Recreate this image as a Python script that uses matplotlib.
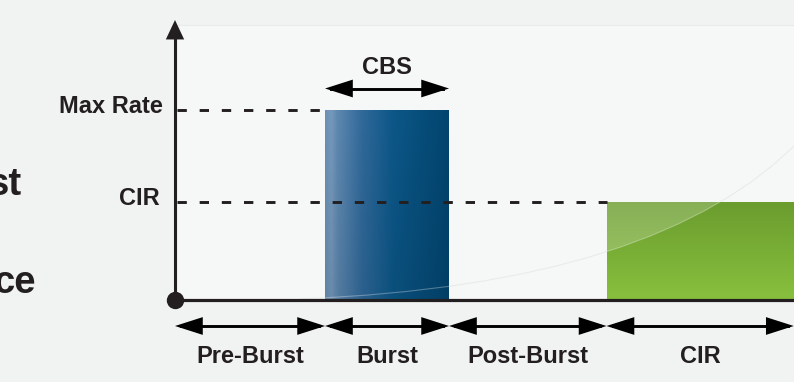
import matplotlib
matplotlib.use('Agg')
from matplotlib import pyplot as plt
from matplotlib.patches import Rectangle, PathPatch, ArrowStyle, FancyArrowPatch
from matplotlib.path import Path
from matplotlib.colors import to_rgb
import numpy as np

# traffic phases along the time axis
phase_names = ['Pre-Burst', 'Burst', 'Post-Burst', 'CIR']
phase_edges = [0.0, 1.21, 2.21, 3.48, 4.99]

# rate levels
level_names = ['Max Rate', 'CIR']
level_values = [1.0, 0.515]
max_rate, cir = level_values

# rate sent during each phase (0 = idle)
phase_rates = [0.0, max_rate, 0.0, cir]
burst_label = 'CBS'

INK = '#231f20'
BG = '#f1f3f2'
FONT = ['Liberation Sans', 'DejaVu Sans']

# pixel geometry of the drawing (origin of the axes in the image)
W, H = 794, 382
X0, Y0 = 175, 299.5
XU, YU = 124.0, 190.0


def px(x, y):
    # image pixel -> data coords, for decoration only
    return (x - X0) / XU, (Y0 - y) / YU


fig = plt.figure(figsize=(W / 100, H / 100), dpi=100, facecolor=BG)
ax = fig.add_axes([0, 0, 1, 1])
ax.set_xlim(-X0 / XU, (W - X0) / XU)
ax.set_ylim(-(H - Y0) / YU, Y0 / YU)
ax.set_facecolor(BG)
ax.axis('off')

# lighter panel behind the plot
px0, py0 = px(178, 25)
xmax = ax.get_xlim()[1]
ax.add_patch(Rectangle((px0, 0), xmax - px0, py0, facecolor='#f6f7f7',
                       edgecolor='none', zorder=0))
ax.plot([px0, xmax], [py0, py0], color='#e9ebeb', lw=0.8, zorder=0.5)

# glossy swoosh
p_start, p_ctrl, p_end = px(300, 299), px(660, 285), px(800, 140)
swoosh = Path([p_start, p_ctrl, p_end], [Path.MOVETO, Path.CURVE3, Path.CURVE3])
top = ax.get_ylim()[1]
swoosh_area = Path([p_start, p_ctrl, p_end, (p_end[0], top), (p_start[0], top), p_start],
                   [Path.MOVETO, Path.CURVE3, Path.CURVE3, Path.LINETO, Path.LINETO,
                    Path.CLOSEPOLY])
ax.add_patch(PathPatch(swoosh, facecolor='none', edgecolor='#e9ecec', lw=0.8, zorder=0.6))

# bars for each phase
widths = np.diff(phase_edges)
bars = ax.bar(phase_edges[:-1], phase_rates, width=widths, align='edge',
              color='none', edgecolor='none', zorder=2)


def gradient(stops_x, colors_x, top_mul, bottom_mul, n=200):
    t = np.linspace(0, 1, n)
    rgb = np.array([to_rgb(c) for c in colors_x])
    row = np.stack([np.interp(t, stops_x, rgb[:, k]) for k in range(3)], axis=-1)
    mul = np.linspace(top_mul, bottom_mul, n)[:, None, None]
    return np.clip(row[None, :, :] * mul, 0, 1)


# burst bar: steel blue fading to deep navy
blue = gradient([0, 0.05, 0.1, 0.3, 0.55, 1.0],
                ['#6a90b4', '#7599bc', '#5e88b0', '#30699a', '#0c5788', '#02456f'],
                1.0, 0.91)
b = bars.patches[1]
im = ax.imshow(blue, extent=(b.get_x(), b.get_x() + b.get_width(), 0, b.get_height()),
               aspect='auto', zorder=2.1, interpolation='bilinear')
im.set_clip_path(b)

# CIR bar: green, lighter toward the bottom
g = bars.patches[3]
t = np.linspace(0, 1, 200)
c_top, c_bot = np.array(to_rgb('#6a9c2e')), np.array(to_rgb('#88c03e'))
green = (c_top[None, :] * (1 - t[:, None]) + c_bot[None, :] * t[:, None])[:, None, :]
im = ax.imshow(green, extent=(g.get_x(), g.get_x() + g.get_width(), 0, g.get_height()),
               aspect='auto', zorder=2.1, interpolation='bilinear')
im.set_clip_path(g)

hl = PathPatch(swoosh_area, facecolor='white', edgecolor='none', alpha=0.2, zorder=2.2)
ax.add_patch(hl)
hl.set_clip_path(g)
for patch in (b, g):
    ln = PathPatch(swoosh, facecolor='none', edgecolor='white', lw=0.8, alpha=0.3, zorder=2.2)
    ax.add_patch(ln)
    ln.set_clip_path(patch)

# dashed reference levels
dash = (0, (3.2, 4.4))
ax.plot([0.02, phase_edges[1]], [max_rate, max_rate], color=INK, lw=2.1,
        linestyle=dash, zorder=1.5)
ax.plot([0.02, phase_edges[3]], [cir, cir], color=INK, lw=2.1, linestyle=dash, zorder=3)

for name, val, dx in zip(level_names, level_values, [-12, -15]):
    ax.annotate(name, xy=(0, val), xytext=(dx, -3.5), textcoords='offset pixels',
                ha='right', va='baseline', fontsize=17, fontweight='bold',
                family=FONT, color=INK)

# axes
ax.plot([0, xmax], [0, 0], color=INK, lw=2.3, solid_capstyle='butt', zorder=4)
y_tip = px(0, 20)[1]
ax.plot([0, 0], [0, y_tip - 0.05], color=INK, lw=2.2, zorder=4)
ax.add_patch(FancyArrowPatch((0, 0), (0, y_tip),
                             arrowstyle=ArrowStyle('-|>', head_length=0.7, head_width=0.33),
                             mutation_scale=20, lw=0, color=INK, shrinkA=0, shrinkB=0,
                             zorder=4))
ax.plot(0, 0, 'o', ms=11.5, color=INK, zorder=5)


def span_arrow(lo, hi, y):
    # filled heads exactly at both ends, shaft drawn as a plain line
    ax.plot([lo + 0.05, hi - 0.05], [y, y], color='black', lw=2.1, zorder=4)
    ax.add_patch(FancyArrowPatch((lo, y), (hi, y),
                                 arrowstyle=ArrowStyle('<|-|>', head_length=1.0, head_width=0.32),
                                 mutation_scale=20, lw=0, color='black',
                                 shrinkA=0, shrinkB=0, zorder=4))


# phase spans under the axis
span_y = -26.5 / YU
for name, lo, hi in zip(phase_names, phase_edges[:-1], phase_edges[1:]):
    span_arrow(lo, hi, span_y)
    ax.annotate(name, xy=((lo + hi) / 2, 0), xytext=(0, -63.5), textcoords='offset pixels',
                ha='center', va='baseline', fontsize=17, fontweight='bold',
                family=FONT, color=INK)

# committed burst size over the burst bar
cbs_y = max_rate + 21 / YU
span_arrow(phase_edges[1], phase_edges[2], cbs_y)
ax.annotate(burst_label, xy=((phase_edges[1] + phase_edges[2]) / 2, cbs_y), xytext=(0, 14),
            textcoords='offset pixels', ha='center', va='baseline', fontsize=17,
            fontweight='bold', family=FONT, color=INK)

# ends of the side heading words
for word, x, y in [('st', 22, 195), ('ce', 36, 293)]:
    fig.text(x / W, 1 - y / H, word, ha='right', va='baseline', fontsize=27.5,
             fontweight='bold', family=FONT, color=INK)

fig.savefig('out.png', dpi=100, facecolor=BG)
